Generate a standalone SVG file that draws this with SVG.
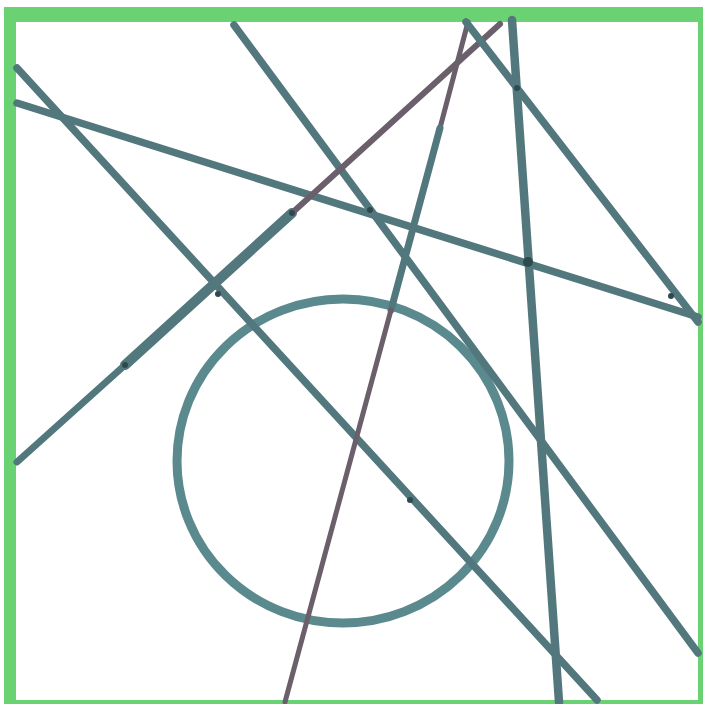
<svg xmlns="http://www.w3.org/2000/svg" width="703" height="704" viewBox="0 0 703 704">
  <style>
    .ln { stroke: #52787e; stroke-linecap: round; fill: none; }
    .rd { stroke: #6a5f6a; stroke-linecap: round; fill: none; }
    .dot { fill: #2f4a4e; }
  </style>
  <rect x="0" y="0" width="703" height="704" fill="#ffffff"/>
  <rect x="4" y="7" width="699" height="697" fill="#6bd274"/>
  <rect x="16" y="22" width="682" height="678" fill="#ffffff"/>
  <g id="circle">
    <ellipse cx="343" cy="461" rx="166" ry="162" fill="none" stroke="#5a8a8e" stroke-width="9"/>
  </g>
  <g id="lines">
    <line id="lineA" class="ln" x1="17" y1="68" x2="597" y2="700" stroke-width="7.5"/>
    <line id="lineB" class="ln" x1="17" y1="103" x2="698" y2="317" stroke-width="7.5"/>
    <line id="lineC" class="ln" x1="234" y1="25" x2="698" y2="653" stroke-width="7.5"/>
    <line id="lineD1" class="ln" x1="17" y1="462" x2="125" y2="365" stroke-width="7"/>
    <line id="lineD2" class="ln" x1="125" y1="365" x2="292" y2="213" stroke-width="10"/>
    <line id="lineD3" class="rd" x1="292" y1="213" x2="500" y2="24" stroke-width="6"/>
    <line id="lineE1" class="rd" x1="468" y1="22" x2="440" y2="128" stroke-width="5"/>
    <line id="lineE2" class="ln" x1="440" y1="128" x2="391" y2="310" stroke-width="7"/>
    <line id="lineE3" class="rd" x1="391" y1="310" x2="285" y2="702" stroke-width="5"/>
    <line id="lineF" class="ln" x1="512" y1="20" x2="559" y2="702" stroke-width="8.5"/>
    <line id="lineG" class="ln" x1="466" y1="22" x2="698" y2="322" stroke-width="7.5"/>
  </g>
  <g id="marks">
    <circle class="dot" cx="528" cy="262" r="5"/>
    <circle class="dot" cx="125" cy="365" r="3"/>
    <circle class="dot" cx="292" cy="213" r="3"/>
    <circle class="dot" cx="410" cy="500" r="3"/>
    <circle class="dot" cx="370" cy="210" r="3"/>
    <circle class="dot" cx="517" cy="88" r="3"/>
    <circle class="dot" cx="218" cy="294" r="3"/>
    <circle class="dot" cx="671" cy="296" r="3"/>
  </g>
</svg>
